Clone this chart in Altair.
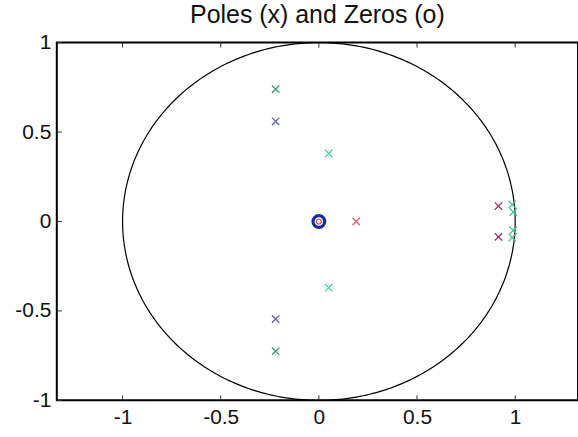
import altair as alt
import numpy as np
import pandas as pd

# ---- data ----
POLE_X = [0.19, 0.915, 0.915, 0.985, 0.99, 0.99, 0.985, -0.22, -0.22, -0.22, -0.22, 0.05, 0.05]
POLE_Y = [0.0, 0.086, -0.086, 0.095, 0.053, -0.05, -0.09, 0.74, -0.725, 0.56, -0.545, 0.38, -0.37]
POLE_GROUP = ["A", "B", "B", "C", "C", "C", "C", "D", "D", "E", "E", "F", "F"]
GROUPS = ["A", "B", "C", "D", "E", "F"]
GROUP_COLORS = ["#e8567a", "#a0305a", "#4cc0a0", "#3c9a6e", "#6464aa", "#4dcfb5"]

ZERO_X = [0.0, 0.0]
ZERO_Y = [0.0, 0.0]
ZERO_COLOR = ["#1a2ca0", "#e04060"]

XTICKS = [-1, -0.5, 0, 0.5, 1]
YTICKS = [-1, -0.5, 0, 0.5, 1]

TITLE = "Poles (x) and Zeros (o)"

# unit circle (geometric reference)
theta = np.linspace(0, 2 * np.pi, 361)
circle = pd.DataFrame({"x": np.cos(theta), "y": np.sin(theta), "o": np.arange(361)})

poles = pd.DataFrame({"x": POLE_X, "y": POLE_Y, "g": POLE_GROUP})
zeros = pd.DataFrame({"x": ZERO_X, "y": ZERO_Y, "c": ZERO_COLOR})
xt = pd.DataFrame({"v": XTICKS})
yt = pd.DataFrame({"v": YTICKS})

W, H = 523, 359
xscale = alt.Scale(domain=[-1.335, 1.32], nice=False, zero=False)
yscale = alt.Scale(domain=[-1, 1], nice=False, zero=False)

LF = "Liberation Sans"
xaxis = alt.Axis(values=XTICKS, labelExpr="'' + datum.value", ticks=False, domain=False,
                 grid=False, title=None, labelPadding=6, labelFont=LF, labelFontSize=21,
                 labelColor="#111")
yaxis = alt.Axis(values=YTICKS, labelExpr="'' + datum.value", ticks=False, domain=False,
                 grid=False, title=None, labelPadding=6, labelFont=LF, labelFontSize=21,
                 labelColor="#111")

circ = alt.Chart(circle).mark_line(color="black", strokeWidth=1.2, clip=True).encode(
    x=alt.X("x:Q", scale=xscale, axis=xaxis),
    y=alt.Y("y:Q", scale=yscale, axis=yaxis),
    order="o:Q",
)

xpath = "M-1,-1L1,1M-1,1L1,-1"
pole_marks = alt.Chart(poles).mark_point(shape=xpath, filled=False, strokeWidth=1.3, size=55, opacity=1).encode(
    x="x:Q", y="y:Q",
    color=alt.Color("g:N", scale=alt.Scale(domain=GROUPS, range=GROUP_COLORS), legend=None),
)

zero_outer = alt.Chart(zeros.iloc[[0]]).mark_point(shape="circle", filled=False, strokeWidth=3.2, size=140, opacity=1).encode(
    x="x:Q", y="y:Q", color=alt.ColorValue(ZERO_COLOR[0])
)
zero_inner = alt.Chart(zeros.iloc[[1]]).mark_point(shape="circle", filled=False, strokeWidth=1.2, size=25, opacity=1).encode(
    x="x:Q", y="y:Q", color=alt.ColorValue(ZERO_COLOR[1])
)

bt = alt.Chart(xt).mark_rule(color="#333", strokeWidth=1).encode(x="v:Q", y=alt.value(H), y2=alt.value(H - 5))
tt = alt.Chart(xt).mark_rule(color="#333", strokeWidth=1).encode(x="v:Q", y=alt.value(0), y2=alt.value(5))
lt = alt.Chart(yt).mark_rule(color="#333", strokeWidth=1).encode(y="v:Q", x=alt.value(0), x2=alt.value(5))

chart = alt.layer(circ, bt, tt, lt, pole_marks, zero_outer, zero_inner).properties(
    width=W, height=H,
    title=alt.Title(TITLE, fontSize=25, font=LF, fontWeight="normal", color="#111",
                    anchor="middle", offset=4),
    padding={"left": 57, "top": 42, "right": 0, "bottom": 36},
    autosize=alt.AutoSizeParams(type="none"),
    background="white",
).configure_view(
    stroke="black", strokeWidth=2
)

chart.save("out.html", embed_options={"renderer": "svg", "actions": False})
